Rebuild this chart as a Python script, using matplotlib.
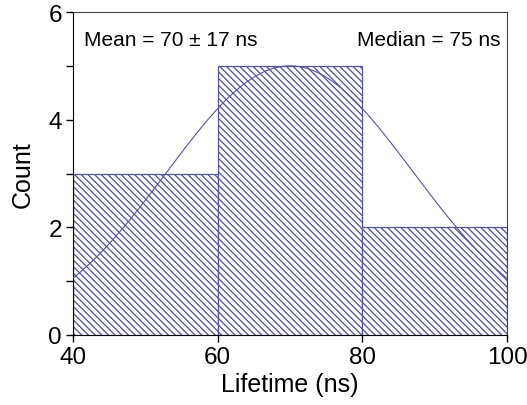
import numpy as np
import matplotlib
matplotlib.use("Agg")
import matplotlib.pyplot as plt

bin_edges = [40, 60, 80, 100]
counts = [3, 5, 2]
mean_ns = 70
sd_ns = 17
peak = 5
median_ns = 75

plt.rcParams['font.family'] = ['Liberation Sans', 'DejaVu Sans']
plt.rcParams['hatch.linewidth'] = 0.95
col = '#55559f'
plt.rcParams['hatch.color'] = col

fig = plt.figure(figsize=(5.27, 4.06), dpi=100)
ax = fig.add_axes([73/527, 1-336/406, (507-73)/527, (336-13)/406])

lefts = bin_edges[:-1]
widths = np.diff(bin_edges)
ax.bar(lefts, counts, width=widths, align='edge', facecolor='white',
       edgecolor=col, linewidth=0.9, hatch='\\' * 5, zorder=1)

xs = np.linspace(bin_edges[0], bin_edges[-1], 300)
ys = peak * np.exp(-(xs - mean_ns) ** 2 / (2 * sd_ns ** 2))
ax.plot(xs, ys, color=col, linewidth=0.8, zorder=3)

ax.set_xlim(40, 100)
ax.set_ylim(0, 6)
ax.set_xticks([40, 60, 80, 100])
ax.set_yticks([0, 2, 4, 6])
ax.set_yticks([1, 3, 5], minor=True)
ax.tick_params(axis='both', which='major', labelsize=17.5, direction='out', length=5, width=1, pad=3)
ax.tick_params(axis='y', which='minor', direction='out', length=5, width=1)
ax.tick_params(top=False, right=False)
ax.spines['top'].set_color('#444444')
ax.spines['right'].set_color('#444444')
ax.set_xlabel('Lifetime (ns)', fontsize=18, labelpad=3)
ax.set_ylabel('Count', fontsize=18, labelpad=10)

ax.text(0.025, 0.945, f'Mean = {mean_ns} \u00b1 {sd_ns} ns', transform=ax.transAxes,
        fontsize=15, ha='left', va='top')
ax.text(0.985, 0.945, f'Median = {median_ns} ns', transform=ax.transAxes,
        fontsize=15, ha='right', va='top')

fig.savefig('out.png', dpi=100)
